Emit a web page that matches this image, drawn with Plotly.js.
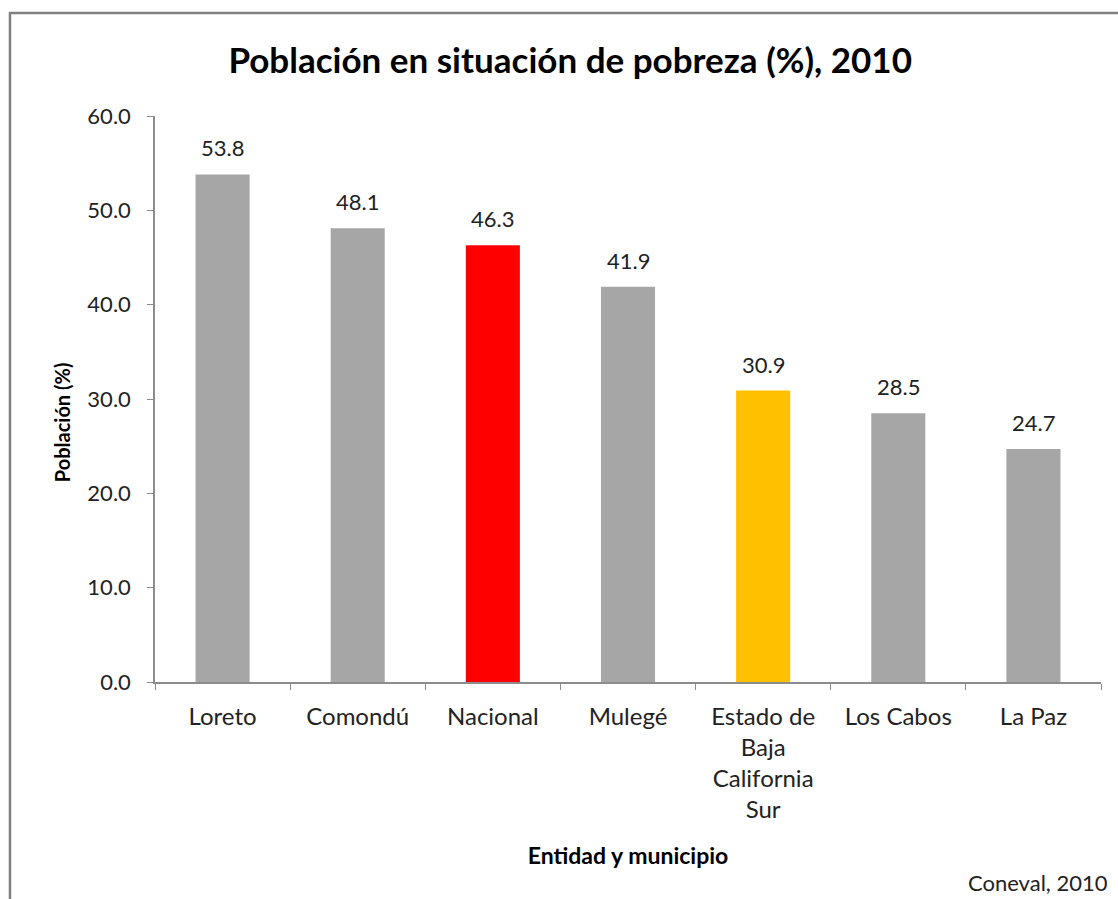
<!DOCTYPE html>
<html>
<head>
<meta charset="utf-8">
<script src="https://cdn.plot.ly/plotly-3.0.1.min.js"></script>
<style>html,body{margin:0;padding:0;background:#fff;}#chart{width:1118px;height:899px;}</style>
</head>
<body>
<div id="chart"></div>
<script>
const categories = ["Loreto", "Comondú", "Nacional", "Mulegé", "Estado de<br>Baja<br>California<br>Sur", "Los Cabos", "La Paz"];
const values = [53.8, 48.1, 46.3, 41.9, 30.9, 28.5, 24.7];
const barColors = ["#a6a6a6", "#a6a6a6", "#ff0000", "#a6a6a6", "#ffc000", "#a6a6a6", "#a6a6a6"];
const tickValues = [0, 10, 20, 30, 40, 50, 60];
const tickLabels = ["0.0", "10.0", "20.0", "30.0", "40.0", "50.0", "60.0"];

const font = "Lato, 'Open Sans', sans-serif";
const trace = {
  type: "bar",
  x: categories,
  y: values,
  marker: {color: barColors},
  width: 0.4,
  hoverinfo: "x+y"
};
const valueLabels = categories.map((c, i) => ({
  x: c, y: values[i], xref: "x", yref: "y",
  text: values[i].toFixed(1), showarrow: false,
  yanchor: "bottom", yshift: 11,
  font: {family: font, size: 22, color: "#222"}
}));
const layout = {
  width: 1118, height: 899,
  margin: {l: 155, r: 17, t: 116, b: 217},
  paper_bgcolor: "#fff", plot_bgcolor: "#fff",
  showlegend: false,
  title: {text: "<b>Población en situación de pobreza (%), 2010</b>", x: 0.51, xanchor: "center", y: 0.932, yanchor: "middle",
    font: {family: font, size: 35, color: "#000"}},
  xaxis: {
    type: "category",
    showline: true, linecolor: "#8c8c8c", linewidth: 1.5,
    ticks: "outside", tickson: "boundaries", ticklen: 6, tickcolor: "#8c8c8c",
    ticklabelstandoff: 12,
    tickfont: {family: font, size: 24, color: "#222"},
    showgrid: false, zeroline: false,
    title: {text: "<b>Entidad y municipio</b>", font: {family: font, size: 23, color: "#000"}, standoff: 26}
  },
  yaxis: {
    range: [0, 60],
    tickvals: tickValues, ticktext: tickLabels,
    showline: true, linecolor: "#8c8c8c", linewidth: 1.5,
    ticks: "outside", ticklen: 6, tickcolor: "#8c8c8c",
    ticklabelstandoff: 12,
    tickfont: {family: font, size: 22, color: "#222"},
    showgrid: false, zeroline: false
  },
  shapes: [{
    type: "rect", xref: "paper", yref: "paper",
    x0: -0.1533, x1: 1.03, y0: -0.4, y1: 1.182,
    line: {color: "#808080", width: 2.5}, fillcolor: "rgba(0,0,0,0)", layer: "below"
  }],
  annotations: valueLabels.concat([{
    text: "<b>Población (%)</b>", xref: "paper", yref: "paper",
    x: -0.0983, y: 0.459, xanchor: "center", yanchor: "middle", textangle: -90, showarrow: false,
    font: {family: font, size: 20, color: "#000"}
  }, {
    text: "Coneval, 2010", xref: "paper", yref: "paper",
    x: 1.01, y: -0.355, xanchor: "right", yanchor: "middle", showarrow: false,
    font: {family: font, size: 22, color: "#222"}
  }])
};
Plotly.newPlot("chart", [trace], layout, {displayModeBar: false});
</script>
</body>
</html>
